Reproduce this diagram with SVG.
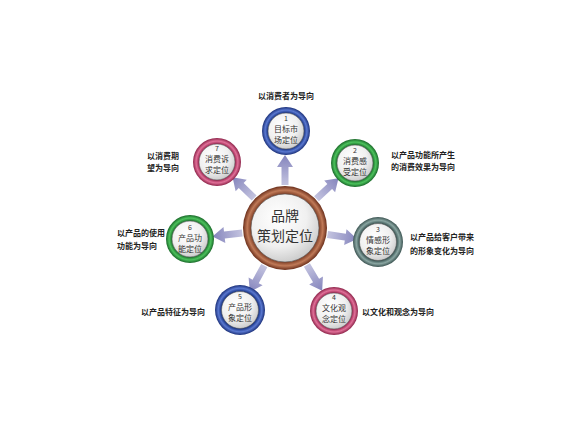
<svg xmlns="http://www.w3.org/2000/svg" width="576" height="432" viewBox="0 0 576 432">
<defs>
<radialGradient id="inner" cx="0.4" cy="0.35" r="0.7">
<stop offset="0" stop-color="#ffffff"/>
<stop offset="0.6" stop-color="#f0f0f0"/>
<stop offset="1" stop-color="#c8c8c8"/>
</radialGradient>
<linearGradient id="arrowG" x1="0" y1="0" x2="1" y2="0">
<stop offset="0" stop-color="#c4c4e0"/>
<stop offset="1" stop-color="#8484bc"/>
</linearGradient>
<radialGradient id="blue" cx="0.5" cy="0.5" r="0.5">
<stop offset="0.76" stop-color="#1e3a8c"/>
<stop offset="0.87" stop-color="#5a78d0"/>
<stop offset="1" stop-color="#1a2f78"/>
</radialGradient>
<radialGradient id="green" cx="0.5" cy="0.5" r="0.5">
<stop offset="0.76" stop-color="#1f7a30"/>
<stop offset="0.87" stop-color="#4cc25c"/>
<stop offset="1" stop-color="#186828"/>
</radialGradient>
<radialGradient id="gray" cx="0.5" cy="0.5" r="0.5">
<stop offset="0.76" stop-color="#435e5c"/>
<stop offset="0.87" stop-color="#8aa6a2"/>
<stop offset="1" stop-color="#3a5250"/>
</radialGradient>
<radialGradient id="pink" cx="0.5" cy="0.5" r="0.5">
<stop offset="0.76" stop-color="#a42c58"/>
<stop offset="0.87" stop-color="#e07098"/>
<stop offset="1" stop-color="#8c2248"/>
</radialGradient>
<radialGradient id="brown" cx="0.5" cy="0.5" r="0.5">
<stop offset="0.8" stop-color="#7a3a22"/>
<stop offset="0.9" stop-color="#c07a58"/>
<stop offset="1" stop-color="#6a2e1a"/>
</radialGradient>
<path id="arr" d="M0,-3.5 L18,-3.5 L18,-8 L30,0 L18,8 L18,3.5 L0,3.5 Z"/>
</defs>
<style>
.inner{fill:url(#inner);stroke:#555;stroke-width:0.6}
.nt{font-family:"Noto Sans CJK SC","Noto Sans",sans-serif;font-size:8px;fill:#333;text-anchor:middle}
.nn{font-family:"Noto Sans CJK SC","Noto Sans",sans-serif;font-size:7px;fill:#333;text-anchor:middle}
.lb{font-family:"Noto Sans CJK SC","Noto Sans",sans-serif;font-size:8px;fill:#222;font-weight:bold}
.ct{font-family:"Noto Sans CJK SC","Noto Sans",sans-serif;font-size:14px;fill:#333;text-anchor:middle}
.ar{fill:url(#arrowG)}
</style>
<rect width="576" height="432" fill="#ffffff"/>
<g id="connectors">
<use href="#arr" class="ar" transform="translate(285,228) rotate(-90) translate(43,0)"/>
<use href="#arr" class="ar" transform="translate(285,228) rotate(-42.9) translate(43,0)"/>
<use href="#arr" class="ar" transform="translate(285,228) rotate(8.6) translate(43,0)"/>
<use href="#arr" class="ar" transform="translate(285,228) rotate(59.4) translate(43,0)"/>
<use href="#arr" class="ar" transform="translate(285,228) rotate(118.8) translate(43,0)"/>
<use href="#arr" class="ar" transform="translate(285,228) rotate(173.4) translate(43,0)"/>
<use href="#arr" class="ar" transform="translate(285,228) rotate(-135.9) translate(43,0)"/>
</g>
<g id="center">
<circle cx="285" cy="228" r="42" fill="url(#brown)"/>
<circle cx="285" cy="228" r="34" class="inner"/>
<text x="285" y="221" class="ct">品牌</text>
<text x="285" y="241" class="ct">策划定位</text>
</g>
<g id="node1">
<circle cx="286" cy="131" r="24" fill="url(#blue)"/>
<circle cx="286" cy="131" r="18" class="inner"/>
<text x="286" y="121" class="nn">1</text>
<text x="286" y="132" class="nt">目标市</text>
<text x="286" y="143" class="nt">场定位</text>
<text x="286" y="99" class="lb" text-anchor="middle">以消费者为导向</text>
</g>
<g id="node2">
<circle cx="355" cy="163" r="24" fill="url(#green)"/>
<circle cx="355" cy="163" r="18" class="inner"/>
<text x="355" y="153" class="nn">2</text>
<text x="355" y="164" class="nt">消费感</text>
<text x="355" y="175" class="nt">受定位</text>
<text x="391" y="158" class="lb">以产品功能所产生</text>
<text x="391" y="170" class="lb">的消费效果为导向</text>
</g>
<g id="node3">
<circle cx="378" cy="242" r="25" fill="url(#gray)"/>
<circle cx="378" cy="242" r="18.5" class="inner"/>
<text x="378" y="232" class="nn">3</text>
<text x="378" y="243" class="nt">情感形</text>
<text x="378" y="254" class="nt">象定位</text>
<text x="410" y="240" class="lb">以产品给客户带来</text>
<text x="410" y="254" class="lb">的形象变化为导向</text>
</g>
<g id="node4">
<circle cx="334" cy="311" r="24" fill="url(#pink)"/>
<circle cx="334" cy="311" r="18" class="inner"/>
<text x="334" y="300" class="nn">4</text>
<text x="334" y="311" class="nt">文化观</text>
<text x="334" y="322" class="nt">念定位</text>
<text x="362" y="315" class="lb">以文化和观念为导向</text>
</g>
<g id="node5">
<circle cx="240" cy="310" r="25" fill="url(#blue)"/>
<circle cx="240" cy="310" r="18.5" class="inner"/>
<text x="240" y="299" class="nn">5</text>
<text x="240" y="310" class="nt">产品形</text>
<text x="240" y="321" class="nt">象定位</text>
<text x="205" y="315" class="lb" text-anchor="end">以产品特征为导向</text>
</g>
<g id="node6">
<circle cx="190" cy="239" r="24" fill="url(#green)"/>
<circle cx="190" cy="239" r="18" class="inner"/>
<text x="190" y="230" class="nn">6</text>
<text x="190" y="241" class="nt">产品功</text>
<text x="190" y="252" class="nt">能定位</text>
<text x="117" y="236" class="lb">以产品的使用</text>
<text x="117" y="249" class="lb">功能为导向</text>
</g>
<g id="node7">
<circle cx="217" cy="162" r="24" fill="url(#pink)"/>
<circle cx="217" cy="162" r="18" class="inner"/>
<text x="217" y="151" class="nn">7</text>
<text x="217" y="162" class="nt">消费诉</text>
<text x="217" y="173" class="nt">求定位</text>
<text x="147" y="159" class="lb">以消费期</text>
<text x="147" y="171" class="lb">望为导向</text>
</g>
</svg>
